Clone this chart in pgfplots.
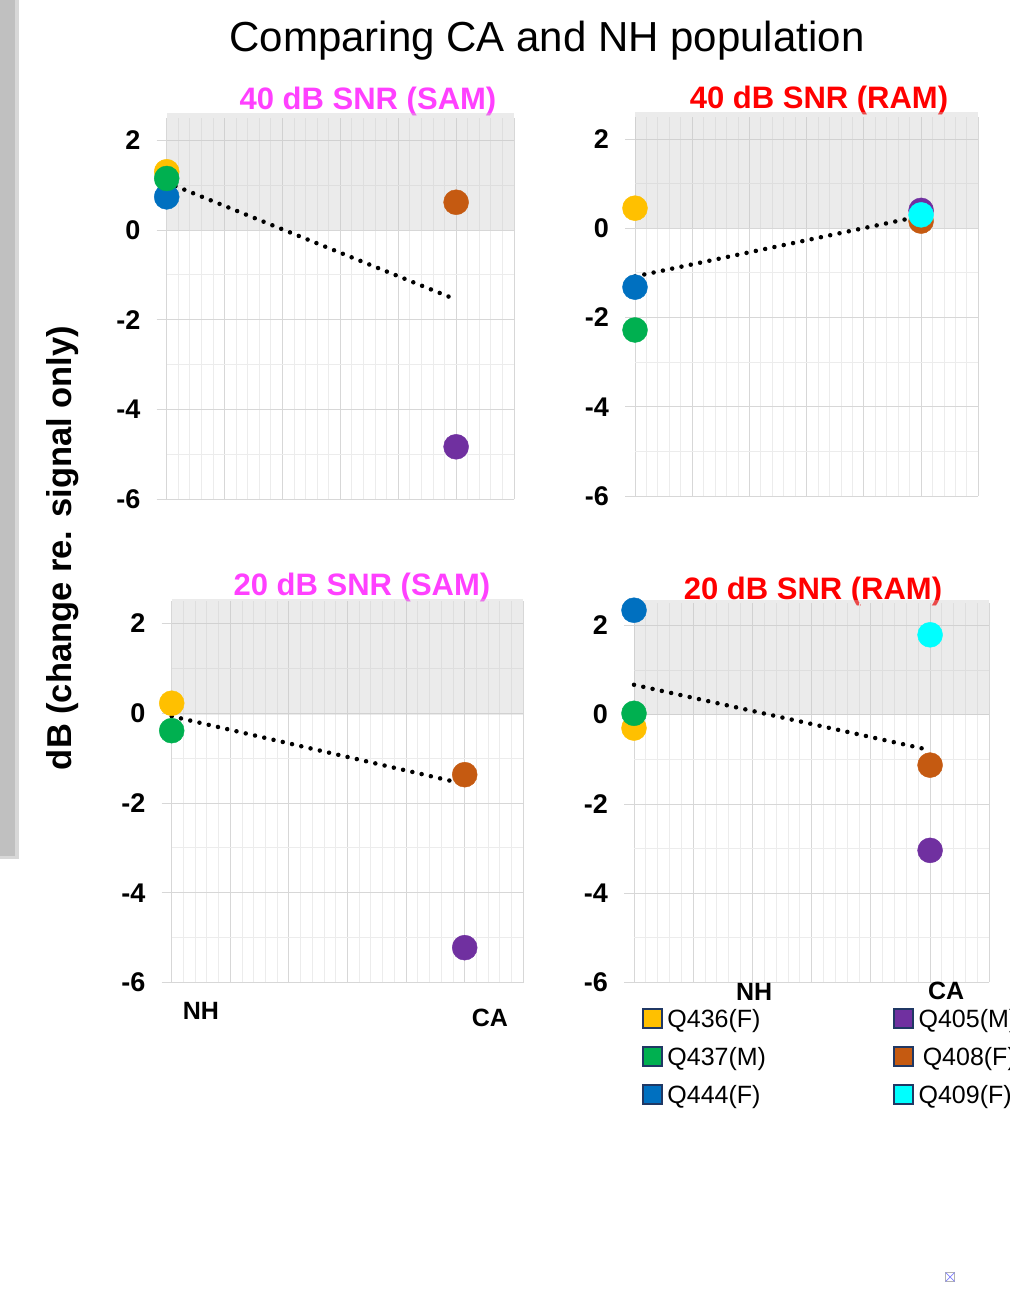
\documentclass[border=0pt]{standalone}
\usepackage{pgfplots}
\pgfplotsset{compat=1.18}
\usepackage{fontspec}
\setmainfont{Liberation Sans}
\definecolor{cQa}{HTML}{FFC000}
\definecolor{cQb}{HTML}{00B050}
\definecolor{cQc}{HTML}{0070C0}
\definecolor{cQd}{HTML}{7030A0}
\definecolor{cQe}{HTML}{C55A11}
\definecolor{cQf}{HTML}{00FFFF}
\definecolor{shade}{RGB}{200,200,200}
\definecolor{gmaj}{RGB}{215,215,215}
\definecolor{gmin}{RGB}{236,236,236}
\definecolor{ttlmag}{HTML}{FF40FF}
\definecolor{legedge}{HTML}{203864}
\definecolor{gbar}{HTML}{C0C0C0}
\definecolor{gbaredge}{HTML}{D8D8D8}
\pgfplotsset{
  panel/.style={
    scale only axis, clip=false,
    xmin=0, xmax=6, ymin=-6, ymax=2.5,
    xtick={0,1,2,3,4,5,6}, xticklabels={},
    minor x tick num=4,
    ytick={-6,-4,-2,0,2}, yticklabels={-6,-4,-2,0,2},
    minor ytick={-5,-3,-1,1},
    grid=both,
    major grid style={draw=gmaj, line width=0.9pt},
    minor grid style={draw=gmin, line width=0.9pt},
    axis line style={draw=none},
    tick align=outside,
    major tick length=10pt, minor tick length=0pt,
    xtick style={draw=none},
    ytick style={draw=gmaj, line width=0.9pt},
    ytick pos=left,
    yticklabel style={font=\bfseries\fontsize{27}{27}\selectfont, anchor=east, inner sep=0pt, xshift=-16pt},
  },
  dot/.style={only marks, mark=*, mark size=12.5pt, color=#1, forget plot},
  trend/.style={black, line width=4.5pt, line cap=round, dash pattern=on 0pt off 9.5pt, forget plot, mark=none},
  shadebox/.style={draw=none, fill=shade, fill opacity=0.37, forget plot, mark=none},
}
\begin{document}
\begin{tikzpicture}[x=1pt,y=1pt]
\path[use as bounding box] (0pt,0pt) rectangle (1009pt,1297pt);
% left decorative bar
\fill[gbaredge] (0pt,438pt) rectangle (19pt,1297pt);
\fill[gbar] (0pt,441pt) rectangle (15pt,1297pt);
% main title
\node[font=\fontsize{42}{42}\selectfont] at (547pt,1256pt) {Comparing CA and NH population};
% y label
\node[rotate=90, font=\bfseries\fontsize{34.5}{34.5}\selectfont] at (63pt,749pt) {dB (change re. signal only)};
% panel titles
\node[font=\bfseries\fontsize{31}{31}\selectfont, text=ttlmag] at (368pt,1195pt) {40 dB SNR (SAM)};
\node[font=\bfseries\fontsize{31}{31}\selectfont, text=red] at (819pt,1196pt) {40 dB SNR (RAM)};
\node[font=\bfseries\fontsize{31}{31}\selectfont, text=ttlmag] at (362pt,710pt) {20 dB SNR (SAM)};
\node[font=\bfseries\fontsize{31}{31}\selectfont, text=red] at (813pt,706pt) {20 dB SNR (RAM)};

% ---------- Panel 1: 40 dB SNR (SAM)
\begin{axis}[panel, at={(166.7pt,797.7pt)}, anchor=south west, width=347.3pt, height=381.4pt]
\addplot[dot=cQa] coordinates {(0,1.30)};
\addplot[dot=cQc] coordinates {(0,0.74)};
\addplot[dot=cQb] coordinates {(0,1.15)};
\addplot[dot=cQe] coordinates {(5,0.62)};
\addplot[dot=cQd] coordinates {(5,-4.83)};
\addplot[shadebox] coordinates {(0,0) (6,0) (6,2.62) (0,2.62)} -- cycle;
\addplot[trend] coordinates {(0,1.06) (5,-1.55)};
\end{axis}

% ---------- Panel 2: 40 dB SNR (RAM)
\begin{axis}[panel, at={(635pt,801pt)}, anchor=south west, width=343.3pt, height=379.3pt]
\addplot[dot=cQa] coordinates {(0,0.45)};
\addplot[dot=cQc] coordinates {(0,-1.32)};
\addplot[dot=cQb] coordinates {(0,-2.28)};
\addplot[dot=cQe] coordinates {(5,0.16)};
\addplot[dot=cQd] coordinates {(5,0.40)};
\addplot[dot=cQf] coordinates {(5,0.30)};
\addplot[shadebox] coordinates {(0,0) (6,0) (6,2.6) (0,2.6)} -- cycle;
\addplot[trend] coordinates {(0,-1.08) (4.95,0.26)};
\end{axis}

% ---------- Panel 3: 20 dB SNR (SAM)
\begin{axis}[panel, at={(171.7pt,314.3pt)}, anchor=south west, width=351.6pt, height=381.9pt]
\addplot[dot=cQa] coordinates {(0,0.22)};
\addplot[dot=cQb] coordinates {(0,-0.39)};
\addplot[dot=cQe] coordinates {(5,-1.37)};
\addplot[dot=cQd] coordinates {(5,-5.22)};
\addplot[shadebox] coordinates {(0,-0.05) (6,-0.05) (6,2.55) (0,2.55)} -- cycle;
\addplot[trend] coordinates {(0,-0.07) (4.97,-1.57)};
\node[font=\bfseries\fontsize{25}{25}\selectfont] at (axis cs:0.5,-6.63) {NH};
\node[font=\bfseries\fontsize{25}{25}\selectfont] at (axis cs:5.43,-6.78) {CA};
\end{axis}

% ---------- Panel 4: 20 dB SNR (RAM)
\begin{axis}[panel, at={(634pt,314.5pt)}, anchor=south west, width=355.3pt, height=379.4pt,
  legend columns=2,
  legend cell align=left,
  legend style={at={(0.0225,-0.045)}, anchor=north west, draw=none, fill=none,
    font=\fontsize{25}{25}\selectfont, inner sep=0pt,
    nodes={inner sep=0pt, text width=221pt, minimum height=38pt, text depth=0pt},
    /tikz/every even column/.append style={column sep=5pt}},
  legend image code/.code={\draw[#1, line width=2pt] (0pt,-9pt) rectangle (19pt,10pt); \path (24pt,0pt);},
]
\addplot[dot=cQc] coordinates {(0,2.34)};
\addplot[dot=cQa] coordinates {(0,-0.30)};
\addplot[dot=cQb] coordinates {(0,0.03)};
\addplot[dot=cQf] coordinates {(5,1.79)};
\addplot[dot=cQe] coordinates {(5,-1.13)};
\addplot[dot=cQd] coordinates {(5,-3.04)};
\addplot[shadebox] coordinates {(0,0) (6,0) (6,2.58) (0,2.58)} -- cycle;
\addplot[trend] coordinates {(0,0.67) (4.95,-0.78)};
\node[font=\bfseries\fontsize{25}{25}\selectfont] at (axis cs:2.03,-6.2) {NH};
\node[font=\bfseries\fontsize{25}{25}\selectfont] at (axis cs:5.27,-6.19) {CA};
\addlegendimage{draw=legedge, fill=cQa}\addlegendentry{Q436(F)}
\addlegendimage{draw=legedge, fill=cQd}\addlegendentry{Q405(M)}
\addlegendimage{draw=legedge, fill=cQb}\addlegendentry{Q437(M)}
\addlegendimage{draw=legedge, fill=cQe}\addlegendentry{\,Q408(F)}
\addlegendimage{draw=legedge, fill=cQc}\addlegendentry{Q444(F)}
\addlegendimage{draw=legedge, fill=cQf}\addlegendentry{Q409(F)}
\end{axis}

% tiny placeholder icon bottom right
\draw[gray!60, line width=1pt] (945.5pt,15.5pt) rectangle (954.5pt,24.5pt);
\draw[blue!50, line width=0.7pt] (945.5pt,15.5pt) -- (954.5pt,24.5pt) (945.5pt,24.5pt) -- (954.5pt,15.5pt);
\end{tikzpicture}
\end{document}
